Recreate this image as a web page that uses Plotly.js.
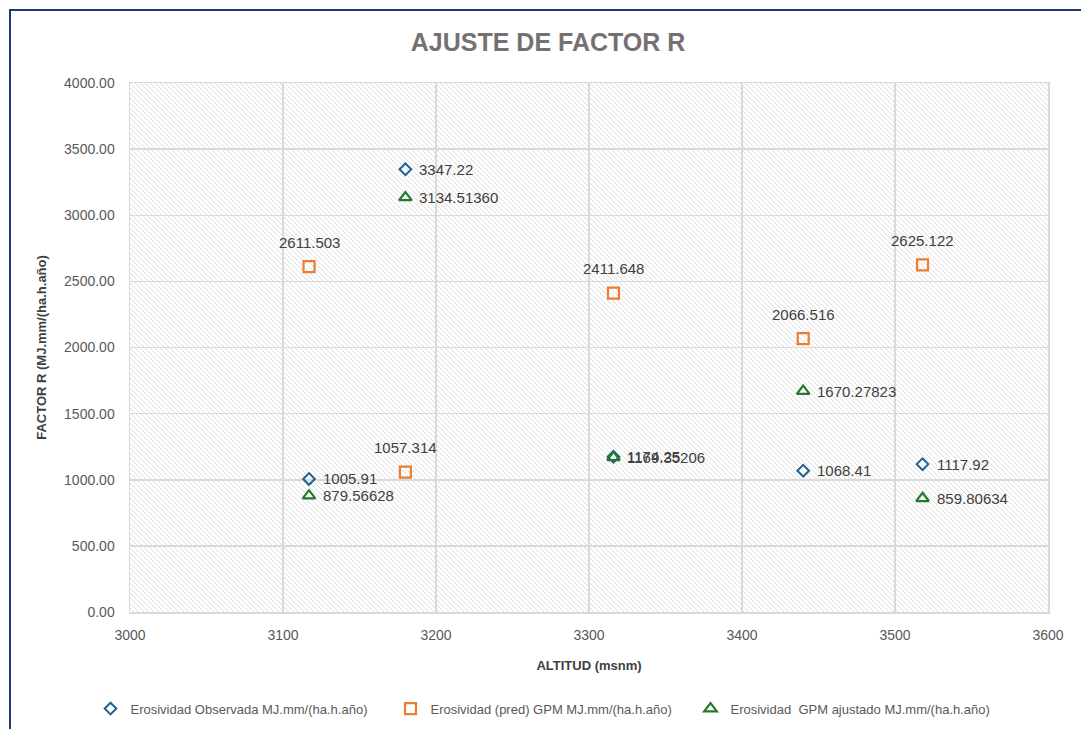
<!DOCTYPE html>
<html>
<head>
<meta charset="utf-8">
<script src="https://cdn.plot.ly/plotly-3.0.1.min.js"></script>
<style>
  html, body { margin: 0; padding: 0; background: #ffffff; overflow: hidden; }
  #frame { position: absolute; left: 9px; top: 9px; width: 1090px; height: 740px; border: 2px solid #1f3a6e; box-sizing: border-box; pointer-events: none; z-index: 5; }
  #chart { position: absolute; left: 0; top: 0; width: 1081px; height: 729px; }
</style>
</head>
<body>
<div id="chart"></div>
<div id="frame"></div>
<script>
// Altitude (msnm) of each station
const altitud = [3117, 3180, 3316, 3440, 3518];
// Series values
const observada = [1005.91, 3347.22, 1174.25, 1068.41, 1117.92];
const predGPM = [2611.503, 1057.314, 2411.648, 2066.516, 2625.122];
const ajustadoGPM = [879.56628, 3134.51360, 1169.35206, 1670.27823, 859.80634];
// Label texts
const observadaLabels = ["1005.91", "3347.22", "1174.25", "1068.41", "1117.92"];
const predLabels = ["2611.503", "1057.314", "2411.648", "2066.516", "2625.122"];
const ajustadoLabels = ["879.56628", "3134.51360", "1169.35206", "1670.27823", "859.80634"];
// Legend names
const seriesNames = [
  "Erosividad Observada MJ.mm/(ha.h.año)",
  "Erosividad (pred) GPM MJ.mm/(ha.h.año)",
  "Erosividad \u00a0GPM ajustado MJ.mm/(ha.h.año)"
];
const yTicks = [0, 500, 1000, 1500, 2000, 2500, 3000, 3500, 4000];
const yTickText = ["0.00", "500.00", "1000.00", "1500.00", "2000.00", "2500.00", "3000.00", "3500.00", "4000.00"];

const labelFont = { family: "Liberation Sans, Arial, sans-serif", size: 15, color: "#404040" };

const traces = [
  {
    x: altitud, y: observada, name: seriesNames[0],
    type: "scatter", mode: "markers",
    marker: { symbol: "diamond-open", size: 9, color: "#1f6391", line: { width: 2, color: "#1f6391" } },
    cliponaxis: false
  },
  {
    x: altitud, y: predGPM, name: seriesNames[1],
    type: "scatter", mode: "markers",
    marker: { symbol: "square-open", size: 11, color: "#ed7d31", line: { width: 2.2, color: "#ed7d31" } },
    cliponaxis: false
  },
  {
    x: altitud, y: ajustadoGPM, name: seriesNames[2],
    type: "scatter", mode: "markers",
    marker: { symbol: "triangle-up-open", size: 11, color: "#217a2d", line: { width: 2.2, color: "#217a2d" } },
    cliponaxis: false
  }
];

const annotations = [];
function addLabels(xs, ys, labels, pos) {
  for (let i = 0; i < xs.length; i++) {
    if (pos === "right") {
      annotations.push({ x: xs[i], y: ys[i], xref: "x", yref: "y", text: labels[i], showarrow: false,
        xanchor: "left", yanchor: "middle", xshift: 12, yshift: 0, font: labelFont });
    } else {
      annotations.push({ x: xs[i], y: ys[i], xref: "x", yref: "y", text: labels[i], showarrow: false,
        xanchor: "center", yanchor: "bottom", xshift: 0, yshift: 14, font: labelFont });
    }
  }
}
addLabels(altitud, observada, observadaLabels, "right");
addLabels(altitud, predGPM, predLabels, "top");
addLabels(altitud, ajustadoGPM, ajustadoLabels, "right");

const plotW = 918, plotH = 529;
const svg = '<svg xmlns="http://www.w3.org/2000/svg" width="' + plotW + '" height="' + plotH + '">' +
  '<defs><pattern id="p" patternUnits="userSpaceOnUse" width="5" height="5">' +
  '<path d="M-1,-1 L6,6 M-1,4 L1,6 M4,-1 L6,1" stroke="#dcdcdc" stroke-width="1"/>' +
  '</pattern></defs><rect width="100%" height="100%" fill="#ffffff"/><rect width="100%" height="100%" fill="url(#p)"/></svg>';
const bgSrc = "data:image/svg+xml;charset=utf-8," + encodeURIComponent(svg);

const layout = {
  width: 1081, height: 729,
  margin: { l: 130, r: 33, t: 83, b: 117, autoexpand: false },
  paper_bgcolor: "#ffffff",
  plot_bgcolor: "rgba(0,0,0,0)",
  showlegend: true,
  title: {
    text: "<b>AJUSTE DE FACTOR R</b>",
    x: 0.507, xanchor: "center", y: 0.942, yanchor: "middle",
    font: { family: "Liberation Sans, Arial, sans-serif", size: 25, color: "#767171" }
  },
  xaxis: {
    range: [3000, 3600], dtick: 100, tick0: 3000,
    showgrid: true, gridcolor: "#d9d9d9", gridwidth: 1.5,
    zeroline: false, showline: true, linecolor: "#d9d9d9", linewidth: 1.5, mirror: true,
    ticks: "", ticklen: 0, ticklabelstandoff: 10,
    tickfont: { family: "Liberation Sans, Arial, sans-serif", size: 14, color: "#595959" },
    title: { text: "<b>ALTITUD (msnm)</b>", standoff: 18, font: { family: "Liberation Sans, Arial, sans-serif", size: 13, color: "#404040" } },
    fixedrange: true
  },
  yaxis: {
    range: [0, 4000], tickvals: yTicks, ticktext: yTickText,
    showgrid: true, gridcolor: "#d9d9d9", gridwidth: 1.5,
    zeroline: false, showline: true, linecolor: "#d9d9d9", linewidth: 1.5, mirror: true,
    ticks: "", ticklen: 0, ticklabelstandoff: 11,
    tickfont: { family: "Liberation Sans, Arial, sans-serif", size: 14, color: "#595959" },
    title: { text: "<b>FACTOR R (MJ.mm/(ha.h.año)</b>", standoff: 14, font: { family: "Liberation Sans, Arial, sans-serif", size: 13, color: "#404040" } },
    fixedrange: true
  },
  legend: {
    orientation: "h", xref: "container", yref: "container", x: 0.5, xanchor: "center", y: 0.028, yanchor: "middle",
    font: { family: "Liberation Sans, Arial, sans-serif", size: 13, color: "#595959" },
    itemwidth: 30, entrywidth: 255, entrywidthmode: "pixels", tracegroupgap: 0, bgcolor: "rgba(0,0,0,0)"
  },
  annotations: annotations,
  images: [{
    source: bgSrc, xref: "paper", yref: "paper", x: 0, y: 1, sizex: 1, sizey: 1,
    xanchor: "left", yanchor: "top", sizing: "stretch", layer: "below"
  }]
};

Plotly.newPlot("chart", traces, layout, { displayModeBar: false, staticPlot: true });
</script>
</body>
</html>
